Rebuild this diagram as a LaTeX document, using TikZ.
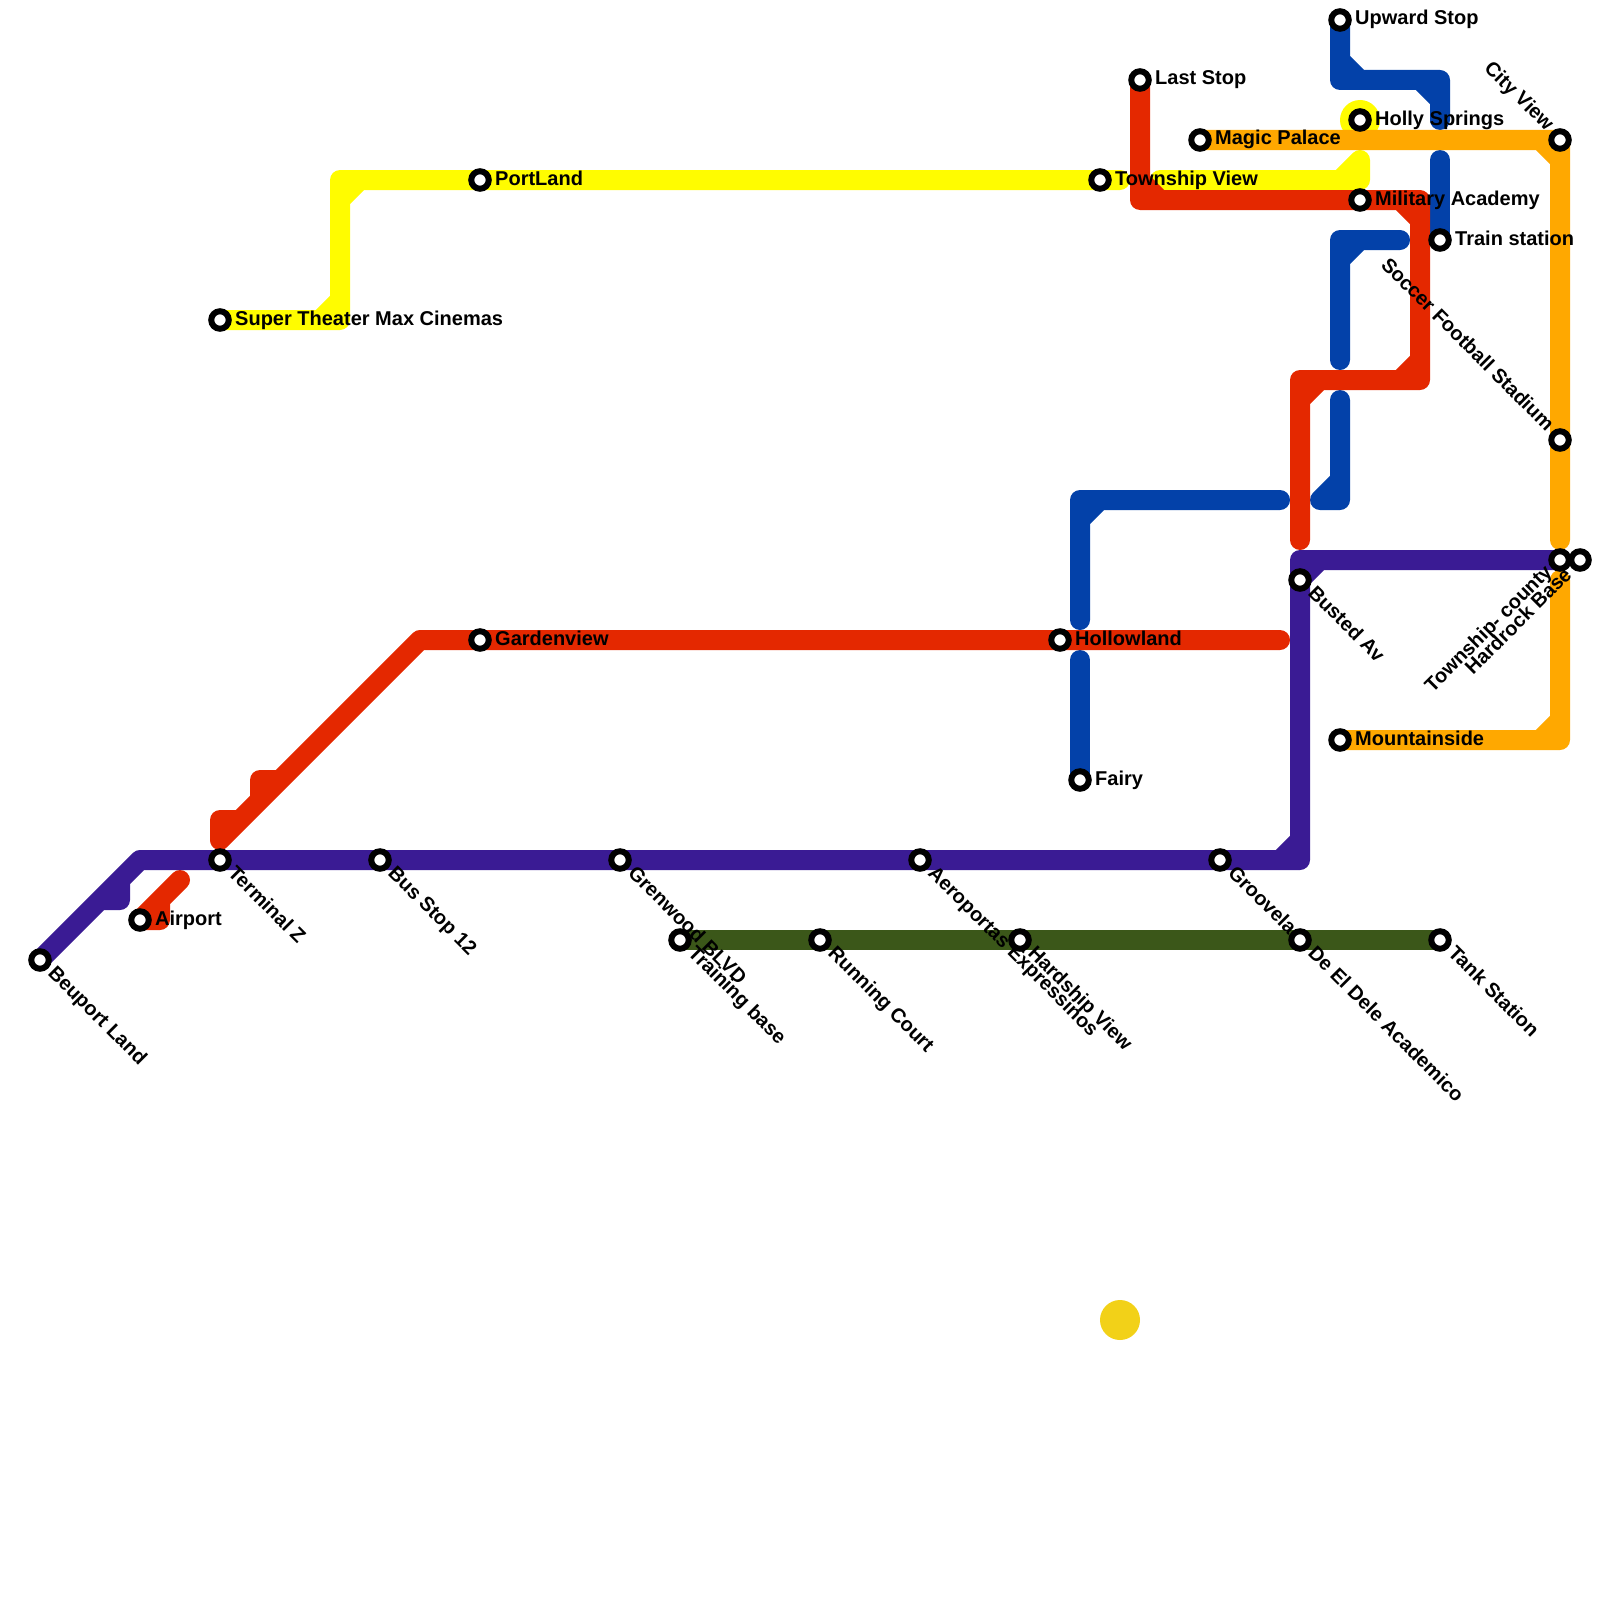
\documentclass[tikz,border=0pt]{standalone}
\usepackage{fontspec}
\setmainfont{Liberation Sans}
\usepackage{xcolor}
\usepackage{tikz}
\pgfdeclarelayer{linework}
\pgfsetlayers{linework,main}
\definecolor{lineblue}{HTML}{0341A9}
\definecolor{linered}{HTML}{E42800}
\definecolor{linepurple}{HTML}{3A1B94}
\definecolor{lineyellow}{HTML}{FFFC00}
\definecolor{lineorange}{HTML}{FFA800}
\definecolor{linegreen}{HTML}{3B5719}
\definecolor{dotgold}{HTML}{F2D118}
\tikzset{
  metro/.style={line width=20pt,line cap=round,line join=round},
  stop/.style={circle,draw=black,fill=white,line width=6pt,minimum size=17.5pt,inner sep=0pt,outer sep=0pt},
  stopname/.style={font=\bfseries\fontsize{20}{22}\selectfont,inner sep=0pt,text=black},
  nameE/.style={stopname,anchor=base west},
  nameSE/.style={stopname,anchor=base west,rotate=-45},
  nameNW/.style={stopname,anchor=base east,rotate=-45},
  nameSW/.style={stopname,anchor=base east,rotate=45},
}
\begin{document}
\begin{tikzpicture}[x=1pt,y=-1pt]
  \useasboundingbox (0,0) rectangle (1600,1600);
  % names
  \node[nameE] (upwardN) at (1355,25) {Upward Stop};
  \node[nameE] (laststopN) at (1155,85) {Last Stop};
  \node[nameE] (hollyN) at (1375,125) {Holly Springs};
  \node[nameE] (magicN) at (1215,145) {Magic Palace};
  \node[nameE] (portlandN) at (495,185) {PortLand};
  \node[nameE] (townshipN) at (1115,185) {Township View};
  \node[nameE] (militaryN) at (1375,205) {Military Academy};
  \node[nameE] (trainstN) at (1455,245) {Train station};
  \node[nameE] (theaterN) at (235,325) {Super Theater Max Cinemas};
  \node[nameE] (gardenviewN) at (495,645) {Gardenview};
  \node[nameE] (hollowlandN) at (1075,645) {Hollowland};
  \node[nameE] (mountainN) at (1355,745) {Mountainside};
  \node[nameE] (fairyN) at (1095,785) {Fairy};
  \node[nameE] (airportN) at (155,925) {Airport};
  \node[nameNW] (cityviewN) at (1546,132) {City View};
  \node[nameNW] (soccerN) at (1546,432) {Soccer Football Stadium};
  \node[nameSW] (countyN) at (1553,573) {Township- county};
  \node[nameSW] (hardrockN) at (1573,576) {Hardrock Base};
  \node[nameSE] (bustedN) at (1307,594) {Busted Av};
  \node[nameSE] (terminalN) at (227,874) {Terminal Z};
  \node[nameSE] (busstopN) at (387,874) {Bus Stop 12};
  \node[nameSE] (grenwoodN) at (627,874) {Grenwood BLVD};
  \node[nameSE] (aeroportasN) at (927,874) {Aeroportas Expressinos};
  \node[nameSE] (groovelasN) at (1227,874) {Groovelas};
  \node[nameSE] (beuportN) at (47,974) {Beuport Land};
  \node[nameSE] (trainingN) at (687,954) {Training base};
  \node[nameSE] (runningN) at (827,954) {Running Court};
  \node[nameSE] (hardshipN) at (1027,954) {Hardship View};
  \node[nameSE] (academicoN) at (1307,954) {De El Dele Academico};
  \node[nameSE] (tankN) at (1447,954) {Tank Station};
  % stops
  \node[stop] (upward) at (1340,20) {};
  \node[stop] (laststop) at (1140,80) {};
  \node[stop] (holly) at (1360,120) {};
  \node[stop] (magic) at (1200,140) {};
  \node[stop] (cityview) at (1560,140) {};
  \node[stop] (portland) at (480,180) {};
  \node[stop] (township) at (1100,180) {};
  \node[stop] (military) at (1360,200) {};
  \node[stop] (trainst) at (1440,240) {};
  \node[stop] (theater) at (220,320) {};
  \node[stop] (soccer) at (1560,440) {};
  \node[stop] (county) at (1560,560) {};
  \node[stop] (hardrock) at (1580,560) {};
  \node[stop] (busted) at (1300,580) {};
  \node[stop] (gardenview) at (480,640) {};
  \node[stop] (hollowland) at (1060,640) {};
  \node[stop] (mountain) at (1340,740) {};
  \node[stop] (fairy) at (1080,780) {};
  \node[stop] (terminal) at (220,860) {};
  \node[stop] (busstop) at (380,860) {};
  \node[stop] (grenwood) at (620,860) {};
  \node[stop] (aeroportas) at (920,860) {};
  \node[stop] (groovelas) at (1220,860) {};
  \node[stop] (airport) at (140,920) {};
  \node[stop] (beuport) at (40,960) {};
  \node[stop] (training) at (680,940) {};
  \node[stop] (running) at (820,940) {};
  \node[stop] (hardship) at (1020,940) {};
  \node[stop] (academico) at (1300,940) {};
  \node[stop] (tank) at (1440,940) {};
  \node[circle,fill=dotgold,minimum size=40pt,inner sep=0pt] (golddot) at (1120,1320) {};
  % free ends and corners
  \coordinate (blueA) at (1340,80);
  \coordinate (blueB) at (1440,80);
  \coordinate (blueC) at (1440,120);
  \coordinate (blueD) at (1440,160);
  \coordinate (blueE) at (1400,240);
  \coordinate (blueF) at (1340,240);
  \coordinate (blueG) at (1340,360);
  \coordinate (blueH) at (1340,400);
  \coordinate (blueI) at (1340,500);
  \coordinate (blueJ) at (1320,500);
  \coordinate (blueK) at (1280,500);
  \coordinate (blueL) at (1080,500);
  \coordinate (blueM) at (1080,620);
  \coordinate (blueN) at (1080,660);
  \coordinate (redA) at (1140,200);
  \coordinate (redB) at (1420,200);
  \coordinate (redC) at (1420,380);
  \coordinate (redD) at (1300,380);
  \coordinate (redE) at (1300,540);
  \coordinate (redF) at (1280,640);
  \coordinate (redG) at (420,640);
  \coordinate (redH) at (220,840);
  \coordinate (redI) at (220,820);
  \coordinate (redJ) at (240,820);
  \coordinate (redK) at (260,800);
  \coordinate (redL) at (260,780);
  \coordinate (redM) at (280,780);
  \coordinate (redN) at (180,880);
  \coordinate (redO) at (160,900);
  \coordinate (redP) at (160,920);
  \coordinate (purpleA) at (140,860);
  \coordinate (purpleB) at (1300,860);
  \coordinate (purpleC) at (1300,560);
  \coordinate (purpleD) at (100,900);
  \coordinate (purpleE) at (120,900);
  \coordinate (purpleF) at (120,880);
  \coordinate (yellowA) at (340,320);
  \coordinate (yellowB) at (340,180);
  \coordinate (yellowC) at (1120,180);
  \coordinate (yellowD) at (1160,180);
  \coordinate (yellowE) at (1360,180);
  \coordinate (yellowF) at (1360,160);
  \coordinate (orangeA) at (1560,740);
  \coordinate (orangeB) at (1560,580);
  \coordinate (orangeC) at (1560,540);
  \begin{pgfonlayer}{linework}
    \fill[lineyellow] (holly) circle (20);
    \draw[metro,linegreen] (training.center) -- (tank.center);
    \draw[metro,lineyellow] (theater.center) -- (yellowA) -- (yellowB) -- (yellowC)
      (320,320) -- (340,300) (340,200) -- (360,180);
    \draw[metro,lineyellow] (yellowD) -- (yellowE) -- (yellowF) (1340,180) -- (yellowF);
    \draw[metro,lineblue] (upward.center) -- (blueA) -- (blueB) -- (blueC)
      (1340,60) -- (1360,80) (1420,80) -- (1440,100);
    \draw[metro,lineblue] (blueD) -- (trainst.center);
    \draw[metro,lineblue] (blueE) -- (blueF) -- (blueG) (1340,260) -- (1360,240);
    \draw[metro,lineblue] (blueH) -- (blueI) -- (blueJ) (1340,480) -- (blueJ);
    \draw[metro,lineblue] (blueK) -- (blueL) -- (blueM) (1080,520) -- (1100,500);
    \draw[metro,lineblue] (blueN) -- (fairy.center);
    \draw[metro,linered] (laststop.center) -- (redA) -- (redB) -- (redC) -- (redD) -- (redE)
      (1140,180) -- (1160,200) (1400,200) -- (1420,220)
      (1420,360) -- (1400,380) (1320,380) -- (1300,400);
    \draw[metro,linered] (redF) -- (redG) -- (redH) -- (redI) -- (redJ)
      (redK) -- (redL) -- (redM);
    \draw[metro,linered] (redN) -- (redO) -- (redP) -- (airport.center) (redO) -- (airport.center);
    \draw[metro,lineorange] (magic.center) -- (cityview.center) -- (orangeC)
      (1540,140) -- (1560,160);
    \draw[metro,lineorange] (mountain.center) -- (orangeA) -- (orangeB)
      (1540,740) -- (1560,720);
    \draw[metro,linepurple] (beuport.center) -- (purpleA) -- (purpleB) -- (purpleC) -- (county.center)
      (purpleD) -- (purpleE) -- (purpleF)
      (1300,840) -- (1280,860) (1300,580) -- (1320,560);
  \end{pgfonlayer}
\end{tikzpicture}
\end{document}
